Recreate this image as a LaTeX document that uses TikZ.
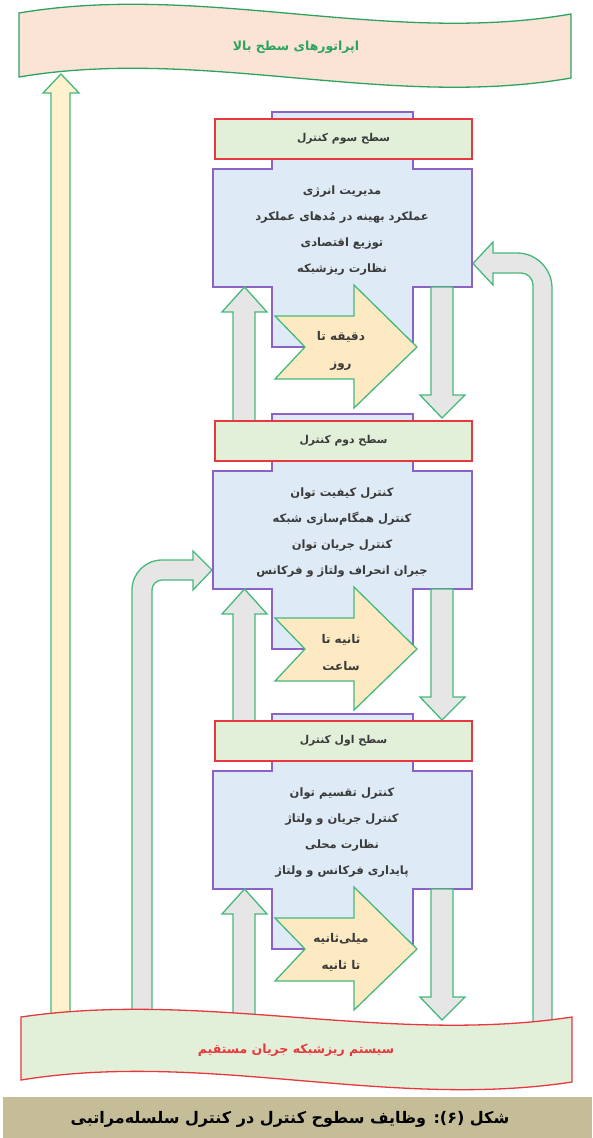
\documentclass[tikz,border=0pt]{standalone}
\usepackage{fontspec}
\newfontfamily\arabicfont[Script=Arabic]{DejaVu Sans}
\TeXXeTstate=1
\definecolor{crossfill}{HTML}{DEEAF6}
\definecolor{crossdraw}{HTML}{8C62C8}
\definecolor{headfill}{HTML}{E2EFD9}
\definecolor{headdraw}{HTML}{E8383D}
\definecolor{agreen}{HTML}{45B97C}
\definecolor{yelfill}{HTML}{FDEAC2}
\definecolor{lightyel}{HTML}{FFF2CC}
\definecolor{grayfill}{HTML}{E6E6E6}
\definecolor{topfill}{HTML}{FBE4D5}
\definecolor{topgreen}{HTML}{2EA35F}
\definecolor{botfill}{HTML}{E2F0D9}
\definecolor{botred}{HTML}{E8383D}
\definecolor{capfill}{HTML}{C4BD97}
\definecolor{bodyink}{HTML}{3A3A3A}
\tikzset{
  crossbox/.style={draw=crossdraw, fill=crossfill, line width=1.2pt, line join=miter},
  headbox/.style={draw=headdraw, fill=headfill, line width=1.3pt, minimum width=257pt,
    minimum height=40pt, inner sep=0pt, font=\arabicfont\fontsize{10.8}{13}\selectfont\bfseries, text=bodyink},
  bodytext/.style={align=center, font=\arabicfont\fontsize{11.5}{26}\selectfont\bfseries, text=bodyink, inner sep=0pt},
  arrowtext/.style={align=center, font=\arabicfont\fontsize{12}{27}\selectfont\bfseries, text=bodyink, inner sep=0pt},
  yelarrow/.style={draw=agreen, fill=yelfill, line width=1.3pt, line join=miter},
  grayarrow/.style={draw=agreen, fill=grayfill, line width=1.3pt, line join=miter},
  longarrow/.style={draw=agreen, fill=lightyel, line width=1.3pt, line join=miter},
  topbanner/.style={draw=topgreen, fill=topfill, line width=1.3pt},
  botbanner/.style={draw=botred, fill=botfill, line width=1.3pt},
  bannertext/.style={font=\arabicfont\fontsize{12.5}{14}\selectfont\bfseries, inner sep=0pt},
  captext/.style={font=\arabicfont\fontsize{16}{19}\selectfont\bfseries, text=black, inner sep=0pt}
}
% #1 top y, #2 name, #3 header, #4-#7 body lines, #8-#9 arrow text
\newcommand\drawlevel[9]{%
  \begin{scope}[yshift=-#1pt]
    \draw[crossbox] (272,0) -- (413,0) -- (413,57) -- (472,57) -- (472,175) -- (413,175)
      -- (413,235) -- (272,235) -- (272,175) -- (213,175) -- (213,57) -- (272,57) -- cycle;
    \node[headbox] (#2head) at (343.5,27) {#3};
    \node[bodytext] (#2body) at (342,119) {#4\\#5\\#6\\#7};
    \draw[yelarrow] (275,204) -- (354,204) -- (354,173) -- (417,235) -- (354,296)
      -- (354,267) -- (275,267) -- (305,235) -- cycle;
    \node[arrowtext] (#2time) at (341,238.5) {#8\\#9};
    \draw[grayarrow] (233,325) -- (233,200) -- (222,200) -- (244.5,175) -- (267,200)
      -- (255,200) -- (255,325) -- cycle;
    \draw[grayarrow] (431,175) -- (453,175) -- (453,283) -- (465,283) -- (442,306)
      -- (420,283) -- (431,283) -- cycle;
  \end{scope}}
\begin{document}
\begin{tikzpicture}[x=1pt,y=-1pt]
\useasboundingbox (0,0) rectangle (592,1138);
% long arrow to top operators
\draw[longarrow] (51,1040) -- (51,93) -- (43,93) -- (61,74) -- (79,93) -- (70,93) -- (70,1040) -- cycle;
% curved arrow into level 2 (left)
\draw[grayarrow] (132,1040) -- (132,590) .. controls (132,573.4) and (145.4,560) .. (162,560)
  -- (193,560) -- (193,551) -- (212,570) -- (193,590) -- (193,580) -- (162,580)
  .. controls (156.5,580) and (152,584.5) .. (152,590) -- (152,1040) -- cycle;
% curved arrow into level 3 (right)
\draw[grayarrow] (552,1040) -- (552,288) .. controls (552,268.7) and (536.3,253) .. (517,253)
  -- (493,253) -- (493,242) -- (473,263.5) -- (493,285) -- (493,273) -- (521,273)
  .. controls (527.6,273) and (533,278.4) .. (533,285) -- (533,1040) -- cycle;
\drawlevel{112}{three}{\beginR سطح سوم کنترل\endR}{\beginR مدیریت انرژی\endR}{\beginR عملکرد بهینه در مُدهای عملکرد\endR}{\beginR توزیع اقتصادی\endR}{\beginR نظارت ریزشبکه\endR}{\beginR دقیقه تا\endR}{\beginR روز\endR}
\drawlevel{414}{two}{\beginR سطح دوم کنترل\endR}{\beginR کنترل کیفیت توان\endR}{\beginR کنترل همگام‌سازی شبکه\endR}{\beginR کنترل جریان توان\endR}{\beginR جبران انحراف ولتاژ و فرکانس\endR}{\beginR ثانیه تا\endR}{\beginR ساعت\endR}
\drawlevel{714}{one}{\beginR سطح اول کنترل\endR}{\beginR کنترل تقسیم توان\endR}{\beginR کنترل جریان و ولتاژ\endR}{\beginR نظارت محلی\endR}{\beginR پایداری فرکانس و ولتاژ\endR}{\beginR میلی‌ثانیه\endR}{\beginR تا ثانیه\endR}
% banners
\draw[topbanner] (19,13) .. controls (203,-18) and (387,46) .. (571,14) -- (571,78)
  .. controls (387,110) and (203,46) .. (19,77) -- cycle;
\node[bannertext, text=topgreen] (top) at (296,47) {\beginR اپراتورهای سطح بالا\endR};
\draw[botbanner] (21,1017) .. controls (205,990) and (388,1045) .. (572,1017) -- (572,1082)
  .. controls (388,1110) and (205,1050) .. (21,1080) -- cycle;
\node[bannertext, text=botred] (bottom) at (296,1050) {\beginR سیستم ریزشبکه جریان مستقیم\endR};
% caption
\fill[capfill] (3,1097) rectangle (592,1138);
\node[captext] (caption) at (290,1119) {\beginR شکل (۶): وظایف سطوح کنترل در کنترل سلسله‌مراتبی\endR};
\end{tikzpicture}
\end{document}
